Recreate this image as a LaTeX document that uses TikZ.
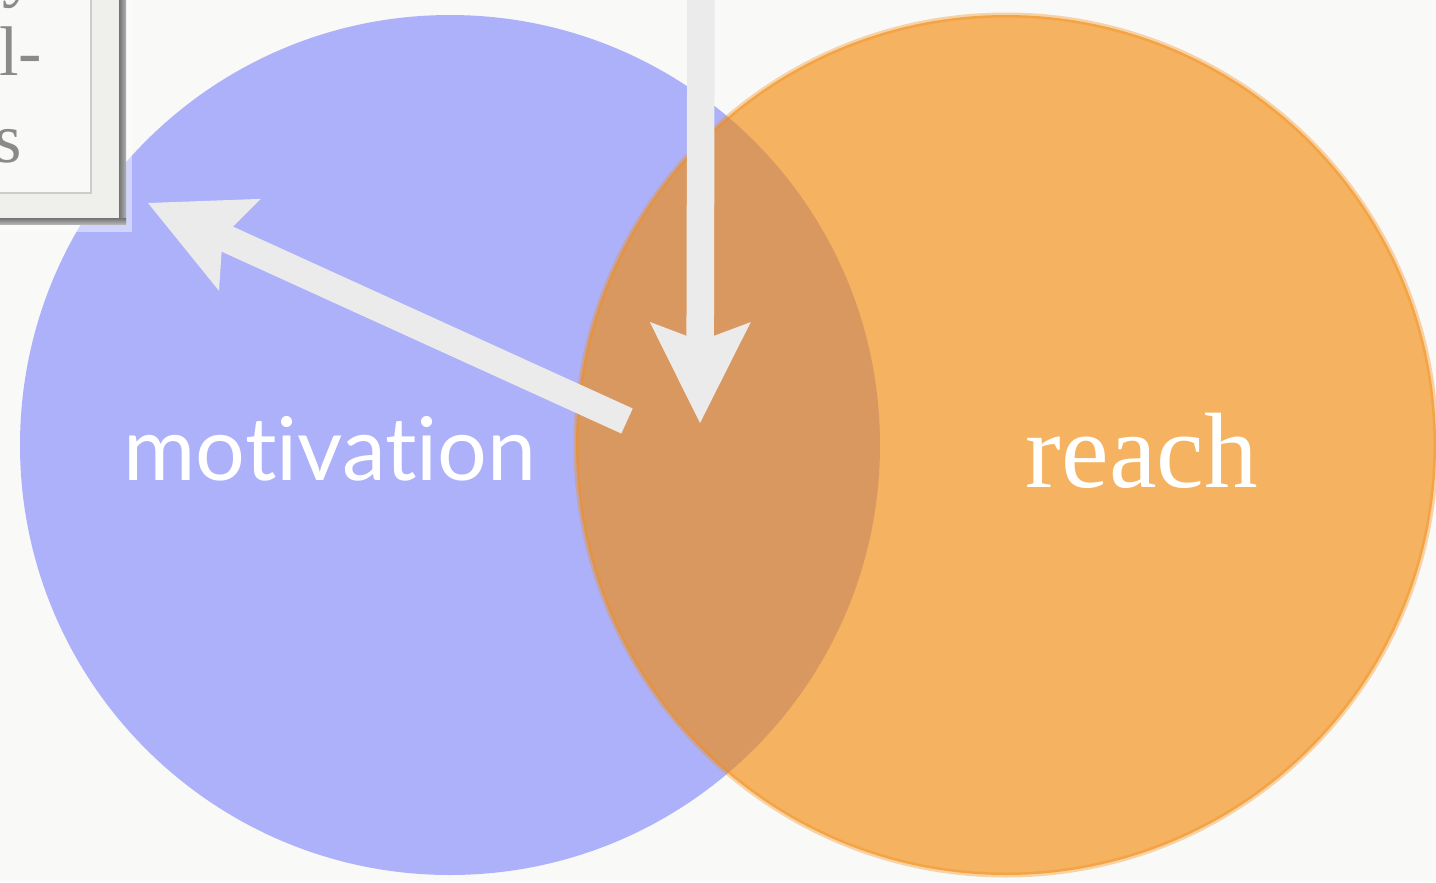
\documentclass[tikz,border=0pt]{standalone}
\usepackage{fontspec}
\setmainfont{Liberation Serif}
\newfontfamily\gillfont[Ligatures=NoCommon]{Lato}
\usetikzlibrary{arrows.meta}
\definecolor{paper}{HTML}{F9F9F7}
\definecolor{motivblue}{HTML}{ACB1FA}
\definecolor{reachorange}{RGB}{243,140,16}
\definecolor{arrowgray}{HTML}{EBEBEB}
\definecolor{framegray}{HTML}{EFEFEC}
\definecolor{inkgray}{HTML}{8A8A8A}
\begin{document}
\begin{tikzpicture}[x=0.1mm,y=-0.1mm,
	bigarrow/.style={draw=arrowgray,line width=2.75mm,-{Stealth[length=10.1mm,width=10.1mm,inset=1.9mm,line width=0pt]}},
	venn/.style={circle,minimum size=86mm,inner sep=0pt},
	vennlabel/.style={text=white,inner sep=0pt,anchor=base},
	boxtext/.style={text=inkgray,font=\fontsize{20}{24}\selectfont,inner sep=0pt}]
	\useasboundingbox (0,0) rectangle (1436,882);
	\fill[paper] (0,0) rectangle (1436,882);
	\clip (0,0) rectangle (1436,882);
	\node[venn,fill=motivblue] (motivation) at (450,445) {};
	\node[venn,fill=reachorange,fill opacity=0.65,draw=reachorange,draw opacity=0.35,line width=0.5mm] (reach) at (1006,445) {};
	\node[vennlabel,font=\gillfont\fontsize{25}{30}\selectfont] (motivationtext) at (330,480) {motivation};
	\node[vennlabel,font=\fontsize{30.5}{34}\selectfont] (reachtext) at (1142,487) {reach};
	\fill[white,fill opacity=0.45] (-20,-20) rectangle (132,232);
	\fill[framegray] (-20,-20) rectangle (126,224);
	\shade[left color=black!55,right color=black!30] (119,-20) rectangle (126,224);
	\shade[top color=black!55,bottom color=black!30] (-20,218) rectangle (126,224);
	\filldraw[fill=paper,draw=black!20] (-20,-20) rectangle (91,193);
	\node[boxtext,anchor=base] (boxy) at (20,-7) {y};
	\node[boxtext,anchor=base east] (boxl) at (43,75) {l-};
	\node[boxtext,anchor=base east] (boxs) at (23,162) {s};
	\coordinate (feedtop) at (701,-20);
	\coordinate (overlap) at (700,423);
	\coordinate (overlapedge) at (627,421);
	\coordinate (panelcorner) at (148,203);
	\draw[bigarrow] (feedtop) -- (overlap);
	\draw[bigarrow] (overlapedge) -- (panelcorner);
\end{tikzpicture}
\end{document}
